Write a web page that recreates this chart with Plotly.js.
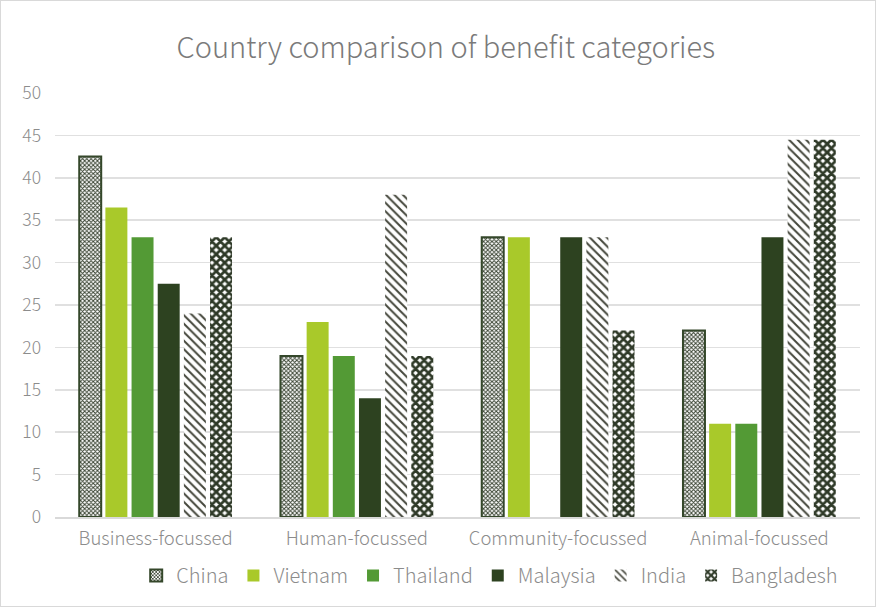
<!DOCTYPE html>
<html>
<head>
<meta charset="utf-8">
<script src="https://cdn.plot.ly/plotly-3.0.1.min.js"></script>
<style>
  html, body { margin: 0; padding: 0; background: #fff; }
  #chart { width: 874px; height: 605px; border: 1px solid #d9d9d9; }
</style>
</head>
<body>
<div id="chart"></div>
<script>
const categories = ['Business-focussed', 'Human-focussed', 'Community-focussed', 'Animal-focussed'];
const seriesNames = ['China', 'Vietnam', 'Thailand', 'Malaysia', 'India', 'Bangladesh'];
const china = [42.5, 19, 33, 22];
const vietnam = [36.5, 23, 33, 11];
const thailand = [33, 19, 0, 11];
const malaysia = [27.5, 14, 33, 33];
const india = [24, 38, 33, 44.5];
const bangladesh = [33, 19, 22, 44.5];
const yTicks = [0, 5, 10, 15, 20, 25, 30, 35, 40, 45, 50];

const FONT = '"Noto Sans CJK SC", "Noto Sans", sans-serif';
const TXT = '#8c8c8c';

const markers = [
  { pattern: { shape: 'x', fgcolor: '#3a4433', bgcolor: '#ffffff', size: 3, solidity: 0.55, fillmode: 'replace' },
    line: { color: '#34472a', width: 2 } },
  { color: '#a9c92a', line: { width: 0 } },
  { color: '#539a35', line: { width: 0 } },
  { color: '#2d4220', line: { width: 0 } },
  { pattern: { shape: '\\', fgcolor: '#45473c', bgcolor: '#ffffff', size: 6, solidity: 0.33, fillmode: 'replace' },
    line: { width: 0 } },
  { pattern: { shape: 'x', fgcolor: '#2f3a28', bgcolor: '#ffffff', size: 6, solidity: 0.7, fillmode: 'replace' },
    line: { width: 0 } }
];
const values = [china, vietnam, thailand, malaysia, india, bangladesh];

const data = values.map((v, i) => ({
  type: 'bar',
  name: seriesNames[i],
  x: categories,
  y: v,
  marker: markers[i],
  hoverinfo: 'x+y+name'
}));

const layout = {
  width: 874,
  height: 605,
  margin: { l: 54, r: 15, t: 92, b: 88 },
  paper_bgcolor: '#ffffff',
  plot_bgcolor: '#ffffff',
  font: { family: FONT, color: TXT, size: 16, weight: 300 },
  title: {
    text: 'Country comparison of benefit categories',
    font: { family: FONT, size: 29, color: '#7a7a7a', weight: 300 },
    x: 0.509, xanchor: 'center', y: 0.922, yanchor: 'middle'
  },
  barmode: 'group',
  bargap: 0.22,
  bargroupgap: 0.16,
  xaxis: {
    type: 'category',
    showgrid: false,
    showline: true,
    linecolor: '#d9d9d9',
    linewidth: 1.5,
    ticks: '',
    tickfont: { family: FONT, size: 18.5, color: TXT, weight: 300 },
    ticklabelstandoff: 4
  },
  yaxis: {
    range: [0, 50],
    tickvals: yTicks,
    ticktext: yTicks.map(String),
    showgrid: true,
    gridcolor: '#e0e0e0',
    gridwidth: 1.5,
    zeroline: false,
    showline: false,
    ticks: '',
    tickfont: { family: FONT, size: 17.5, color: TXT, weight: 300 },
    ticklabelstandoff: 13
  },
  legend: {
    orientation: 'h',
    x: 0.54, xanchor: 'center',
    y: -0.135, yanchor: 'middle',
    font: { family: FONT, size: 20, color: TXT, weight: 300 },
    itemwidth: 30,
    tracegroupgap: 0
  },
  showlegend: true
};

Plotly.newPlot('chart', data, layout, { displayModeBar: false, staticPlot: true });
</script>
</body>
</html>
